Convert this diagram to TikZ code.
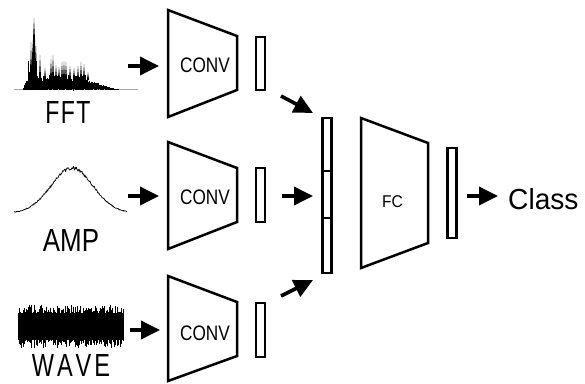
\documentclass[tikz,border=0pt]{standalone}
\usepackage{fontspec}
\usepackage{graphicx}
\setmainfont{Liberation Sans}
\usetikzlibrary{arrows.meta}

\begin{document}
\begin{tikzpicture}[x=1pt,y=-1pt,
  trap/.style={draw, line width=2.5pt, line join=miter},
  bar/.style={draw, line width=2.5pt, inner sep=0pt, minimum width=9pt},
  flow/.style={line width=3.6pt, -{Triangle[length=19pt,width=18pt]}},
  lab/.style={inner sep=0pt, anchor=base},
  big/.style={lab, font=\fontsize{32}{32}\selectfont},
]
\useasboundingbox (0,0) rectangle (585,383);
\pgfmathsetseed{4711}

% ---------- FFT spectrum ----------
\draw[gray!70, line width=1pt] (14,89) -- (138,89);
\foreach \i in {0,...,190}{
  \pgfmathsetmacro\xx{23+\i*0.5}
  \pgfmathsetmacro\env{ifthenelse(\xx<28, 15*(\xx-23)/5,
                        ifthenelse(\xx<37, 28,
                        ifthenelse(\xx<86, 14, 10*(115-\xx)/29)))}
  \pgfmathsetmacro\hh{\env*(0.55+0.45*rnd)}
  \pgfmathsetmacro\lo{89+1.5*rnd}
  \draw[line width=0.7pt] (\xx,\lo) -- (\xx,89-\hh);
}
\fill (30,89) -- (33,40) -- (34,18) -- (35,40) -- (37,89) -- cycle;
\foreach \sx/\sy in {31/42, 36/46, 40/55, 45/68, 51/59, 53/55, 56/65, 59/67,
                     62/62, 64/61, 66/62, 70/66, 74/68, 78/66, 81/62, 84/64, 88/72}{
  \fill (\sx-1.1,80) -- (\sx,\sy) -- (\sx+1.1,80) -- cycle;
}

% ---------- amplitude distribution ----------
\draw[line width=0.7pt, line join=round]
  plot[samples=220, domain=14:127]
  (\x, {213 - 45*exp(-((\x-72)/21)^2/2) + 3*(rnd-0.5)*(0.25+exp(-((\x-72)/21)^2/2))});

% ---------- raw waveform ----------
\foreach \i in {0,...,262}{
  \pgfmathsetmacro\xx{18.5+\i*0.4}
  \pgfmathsetmacro\up{13+9*rnd^3}
  \pgfmathsetmacro\dn{13+9*rnd^4}
  \draw[line width=0.6pt] (\xx,326.5-\up) -- (\xx,326.5+\dn);
}

% ---------- signal labels ----------
\node[big] (fft)  at (68,123) {\scalebox{0.72}[1]{F\hspace{2pt}F\hspace{2pt}T}};
\node[big] (amp)  at (71,251) {\scalebox{0.81}[1]{AMP}};
\node[big] (wave) at (71,376.5) {\scalebox{0.735}[1]{W\hspace{4pt}A\hspace{4pt}V\hspace{4pt}E}};

% ---------- convolution branches ----------
\draw[trap] (168,10)  -- (237,36)  -- (237,90)  -- (168,117) -- cycle;
\draw[trap] (168,142) -- (237,168) -- (237,222) -- (168,249) -- cycle;
\draw[trap] (168,276) -- (237,302) -- (237,356) -- (168,381) -- cycle;
\node[lab, font=\fontsize{21}{21}\selectfont] (conv1) at (205,72)  {\scalebox{0.82}[1]{CONV}};
\node[lab, font=\fontsize{21}{21}\selectfont] (conv2) at (205,204) {\scalebox{0.82}[1]{CONV}};
\node[lab, font=\fontsize{21}{21}\selectfont] (conv3) at (205,340) {\scalebox{0.82}[1]{CONV}};

% feature vectors
\node[bar, minimum height=53pt] (f1) at (260.5,63.5) {};
\node[bar, minimum height=54pt] (f2) at (260.5,195)  {};
\node[bar, minimum height=54pt] (f3) at (260.5,330)  {};

% concatenated vector
\node[bar, minimum height=53pt] (c1) at (327,144.5) {};
\node[bar, minimum height=47pt] (c2) at (327,194.5) {};
\node[bar, minimum height=55pt] (c3) at (327,245.5) {};

% fully connected stage
\draw[trap] (361,118) -- (428,143) -- (428,243) -- (361,268) -- cycle;
\node[lab, font=\fontsize{17}{17}\selectfont] (fc) at (392.5,207) {\scalebox{0.92}[1]{FC}};
\node[bar, minimum height=90pt] (out) at (452,193) {};
\node[lab, font=\fontsize{29}{29}\selectfont, anchor=base west] (cls) at (508,209) {\scalebox{0.97}[1]{Class}};

% ---------- arrow end points ----------
\coordinate (a1s) at (128,66);   \coordinate (a1e) at (159,66);
\coordinate (a2s) at (128,196);  \coordinate (a2e) at (159,196);
\coordinate (a3s) at (130,330);  \coordinate (a3e) at (160,330);
\coordinate (b1s) at (281,96);   \coordinate (b1e) at (313,113);
\coordinate (b2s) at (282,196);  \coordinate (b2e) at (313,196);
\coordinate (b3s) at (281,296);  \coordinate (b3e) at (313,280);
\coordinate (os)  at (467,196);  \coordinate (oe)  at (498,196);

\draw[flow] (a1s) -- (a1e);
\draw[flow] (a2s) -- (a2e);
\draw[flow] (a3s) -- (a3e);
\draw[flow] (b1s) -- (b1e);
\draw[flow] (b2s) -- (b2e);
\draw[flow] (b3s) -- (b3e);
\draw[flow] (os) -- (oe);
\end{tikzpicture}
\end{document}
